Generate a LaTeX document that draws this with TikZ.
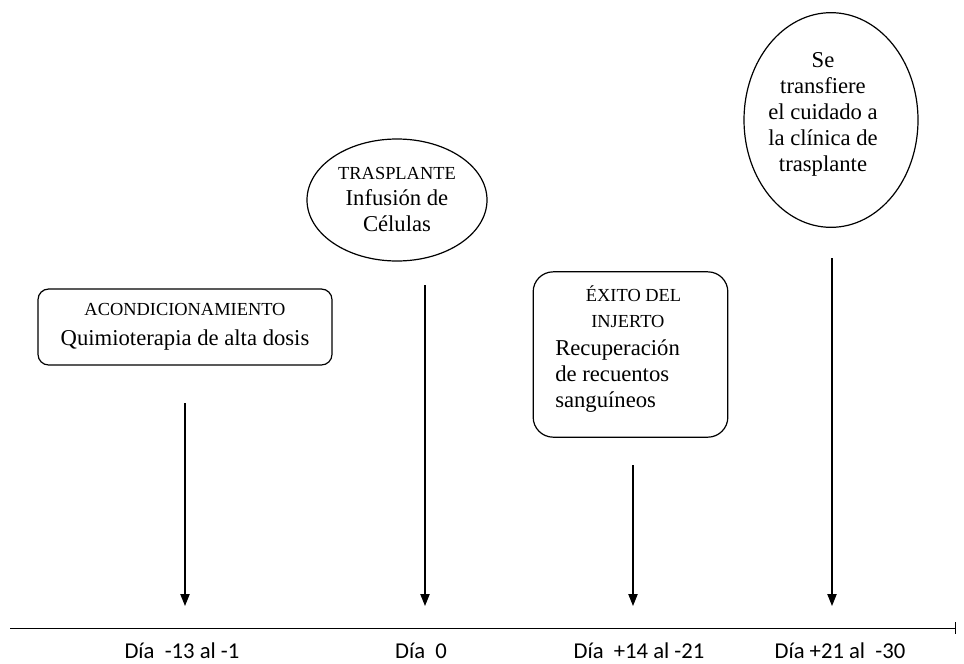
\documentclass[tikz,border=0pt]{standalone}
\usepackage{fontspec}
\setmainfont{Liberation Serif}
\newfontfamily\diafont{Carlito}
\newcommand\titfont{\fontsize{13.8}{19.5}\selectfont}
\usetikzlibrary{arrows.meta,shapes.geometric}
\begin{document}
\begin{tikzpicture}[x=0.75pt,y=-0.75pt,
        node font=\fontsize{17}{19.5}\selectfont,
        box/.style={draw,line width=0.9pt,inner sep=0pt},
        oval/.style={draw,ellipse,line width=0.9pt,inner sep=0pt},
        down/.style={-{Triangle[length=9pt,width=7pt]},line width=0.8pt},
        day/.style={node font=\diafont\fontsize{17}{19}\selectfont,inner sep=0pt}]
        \path[use as bounding box] (0,0) rectangle (964,664);
        % etapas
        \node[box, rounded corners=8pt, minimum width=220.5pt, minimum height=57pt,
            align=center] (acond) at (185,327)
            {{\titfont ACONDICIONAMIENTO}\\[3pt]Quimioterapia de alta dosis};
        \node[oval, minimum width=135pt, minimum height=91.5pt, align=center]
            (tras) at (397,200) {{\titfont TRASPLANTE}\\Infusión de\\Células};
        \node[box, rounded corners=15pt, minimum width=146pt, minimum height=124pt]
            (exito) at (630.5,354.5) {};
        \node[align=left, anchor=west, inner sep=0pt] (exitotxt) at (555,349)
            {\hspace*{23pt}{\titfont ÉXITO DEL}\\\hspace*{27pt}{\titfont INJERTO}\\[1pt]
             Recuperación\\de recuentos\\sanguíneos};
        \node[oval, minimum width=130.5pt, minimum height=161pt] (clin) at (831,120) {};
        \node[align=center] (clintxt) at (823,114)
            {Se\\transfiere\\el cuidado a\\la clínica de\\trasplante};
        % flechas
        \foreach \n/\x/\top in {1/185/403, 2/425/285, 3/633/465, 4/832/258} {
            \coordinate (s\n) at (\x,\top);
            \coordinate (e\n) at (\x,606);
            \draw[down] (s\n) -- (e\n);
        }
        % eje
        \coordinate (ini) at (10,628);
        \coordinate (fin) at (956,628);
        \draw[line width=0.6pt,-{Bar[width=9pt]}] (ini) -- (fin);
        \node[day] (d1) at (182,651) {Día\ \ -13 al -1};
        \node[day] (d2) at (421,651) {Día\ \ 0};
        \node[day] (d3) at (639,651) {Día\ \ +14 al -21};
        \node[day] (d4) at (840,651) {Día +21 al\ \ -30};
\end{tikzpicture}
\end{document}
